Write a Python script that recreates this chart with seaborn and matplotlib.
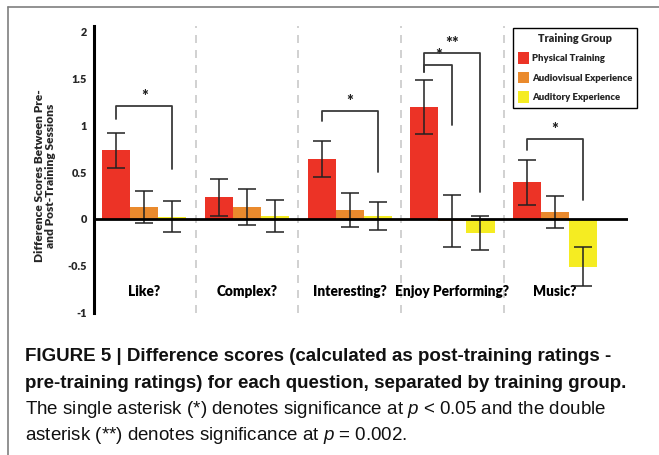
import matplotlib
matplotlib.use('Agg')
import matplotlib.pyplot as plt
import matplotlib.font_manager as fm
from matplotlib.lines import Line2D
from matplotlib.patches import Patch
import pandas as pd
import seaborn as sns

questions = ['Like?', 'Complex?', 'Interesting?', 'Enjoy Performing?', 'Music?']
groups = ['Physical Training', 'Audiovisual Experience', 'Auditory Experience']
colors = ['#ec3326', '#ea8a2d', '#f5ec22']

physical = [0.73, 0.23, 0.64, 1.19, 0.39]
physical_err = [0.19, 0.20, 0.19, 0.29, 0.24]
audiovisual = [0.13, 0.13, 0.095, -0.02, 0.07]
audiovisual_err = [0.17, 0.19, 0.185, 0.28, 0.17]
auditory = [0.025, 0.03, 0.03, -0.15, -0.51]
auditory_err = [0.165, 0.17, 0.15, 0.18, 0.21]

# question, from group, to group, top, left leg end, right leg end, label
brackets = [
    (0, 0, 2, 1.20, 1.07, 0.53, '*'),
    (2, 0, 2, 1.15, 1.04, 0.50, '*'),
    (3, 0, 1, 1.64, 1.57, 1.00, '*'),
    (3, 0, 2, 1.77, 1.57, 0.29, '**'),
    (4, 0, 2, 0.85, 0.73, 0.20, '*'),
]

yticks = [-1, -0.5, 0, 0.5, 1, 1.5, 2]
ytick_labels = ['-1', '-0.5', '0', '0.5', '1', '1.5', '2']

caption = [
    ('FIGURE 5 | Difference scores (calculated as post-training ratings -', 'bold'),
    ('pre-training ratings) for each question, separated by training group.', 'bold'),
    (r'The single asterisk (*) denotes significance at $p$ < 0.05 and the double', 'normal'),
    (r'asterisk (**) denotes significance at $p$ = 0.002.', 'normal'),
]


def pick_font(names):
    for name in names:
        try:
            fm.findfont(fm.FontProperties(family=name), fallback_to_default=False)
            return name
        except ValueError:
            pass
    return 'DejaVu Sans'


sns.set_style('white')
chart_font = pick_font(['Lato', 'Open Sans', 'DejaVu Sans'])
caption_font = pick_font(['Liberation Sans Narrow', 'Liberation Sans', 'DejaVu Sans'])
caption_size = 14 if caption_font == 'Liberation Sans Narrow' else 13.5
plt.rcParams['font.family'] = [chart_font, 'DejaVu Sans']
plt.rcParams['mathtext.fontset'] = 'custom'
plt.rcParams['mathtext.rm'] = caption_font
plt.rcParams['mathtext.it'] = caption_font + ':italic'

df = pd.DataFrame({
    'question': questions * 3,
    'group': [g for g in groups for _ in questions],
    'score': physical + audiovisual + auditory,
})

W, H = 659, 455
fig = plt.figure(figsize=(W / 100, H / 100), dpi=100)
ax = fig.add_axes([94 / W, 1 - 312.7 / H, 534 / W, 287 / H])

sns.barplot(data=df, x='question', y='score', hue='group', order=questions,
            hue_order=groups, palette=colors, saturation=1, width=0.82, gap=0,
            errorbar=None, linewidth=0, legend=False, ax=ax)

centers = []
for container, vals, errs in zip(ax.containers, [physical, audiovisual, auditory],
                                 [physical_err, audiovisual_err, auditory_err]):
    xs = [b.get_x() + b.get_width() / 2 for b in container]
    centers.append(xs)
    ax.errorbar(xs, vals, yerr=errs, fmt='none', ecolor='#222222',
                elinewidth=1.1, capsize=6.5, capthick=1.1, zorder=4)

for i in range(len(questions) - 1):
    ax.axvline(i + 0.5, color='#c9c9c9', lw=1.2, ls=(0, (4.8, 4.2)), zorder=0)

ax.axhline(0, color='black', lw=2.0, zorder=5)

for qi, g0, g1, top, left_end, right_end, label in brackets:
    x0 = centers[g0][qi]
    x1 = centers[g1][qi]
    ax.plot([x0, x0, x1, x1], [left_end, top, top, right_end],
            color='#3a3a3a', lw=1.3, zorder=6)
    ax.text((x0 + x1) / 2, top + 0.01, label, ha='center', va='bottom',
            fontsize=11.5, fontweight='heavy', color='#222222')

for i, q in enumerate(questions):
    ax.text(i, -0.775, q, ha='center', va='center', fontsize=9.8,
            fontweight='heavy', color='black')

ax.set_xlim(-0.49, 4.71)
ax.set_ylim(-1, 2.06)
ax.set_xticks([])
ax.set_yticks(yticks)
ax.set_yticklabels(ytick_labels, fontsize=7.8, fontweight='heavy')
ax.tick_params(axis='y', length=0, pad=5)
ax.set_xlabel('')
ax.set_ylabel('')
for side in ['top', 'right', 'bottom']:
    ax.spines[side].set_visible(False)
ax.spines['left'].set_color('black')
ax.spines['left'].set_linewidth(2.2)
ax.patch.set_alpha(0)

fig.text(45 / W, 1 - 176 / H,
         'Difference Scores Between Pre-\nand Post-Training Sessions',
         rotation=90, ha='center', va='center', multialignment='center',
         fontsize=8.6, fontweight='heavy', linespacing=1.05)

handles = [Patch(facecolor=c, edgecolor='none') for c in colors]
leg = ax.legend(handles, groups, title='Training Group', loc='upper left',
                bbox_to_anchor=(513 / W, 1 - 28 / H), bbox_transform=fig.transFigure,
                frameon=True, fancybox=False, edgecolor='black', framealpha=1,
                prop=dict(family=chart_font, weight='heavy', size=6.8),
                title_fontproperties=dict(family=chart_font, weight='heavy', size=7.8),
                handlelength=1.15, handleheight=1.5, handletextpad=0.3,
                labelspacing=0.85, borderpad=0.55, borderaxespad=0)
leg.get_frame().set_linewidth(1.0)

# outer frame of the figure panel
fig.add_artist(Line2D([8 / W, 1], [1 - 7 / H, 1 - 7 / H], color='#7f7f7f', lw=1.2,
                      transform=fig.transFigure))
fig.add_artist(Line2D([8 / W, 8 / W], [1 - 7 / H, 0], color='#7f7f7f', lw=1.2,
                      transform=fig.transFigure))

for k, (line, weight) in enumerate(caption):
    fig.text(25 / W, 1 - (361 + 26.5 * k) / H, line, ha='left', va='baseline',
             fontsize=caption_size, fontweight=weight, family=caption_font,
             color='#111111')

fig.savefig('out.png', dpi=100)
